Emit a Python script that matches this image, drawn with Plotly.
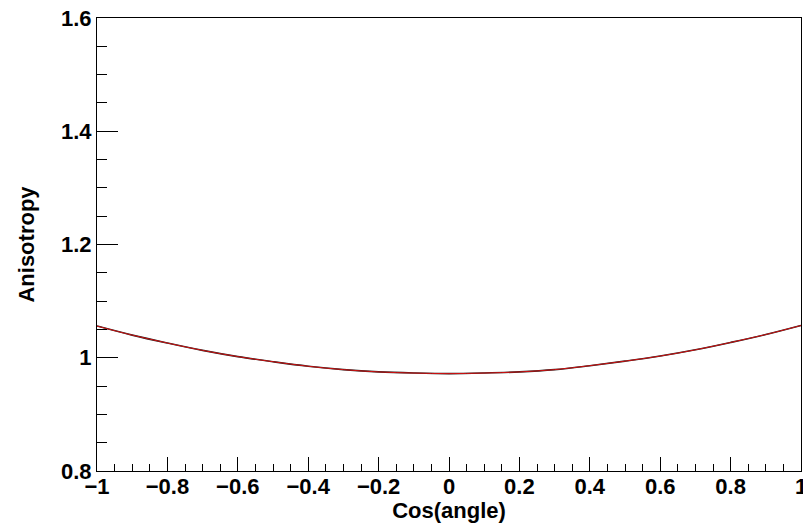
import plotly.graph_objects as go

# Data
cos_angle = [-1.0, -0.9, -0.8, -0.7, -0.6, -0.5, -0.4, -0.3, -0.2, -0.1, 0.0,
             0.1, 0.2, 0.3, 0.4, 0.5, 0.6, 0.7, 0.8, 0.9, 1.0]
anisotropy = [1.056, 1.040, 1.026, 1.013, 1.002, 0.993, 0.985, 0.979, 0.975, 0.973, 0.972,
              0.973, 0.975, 0.979, 0.986, 0.994, 1.003, 1.014, 1.027, 1.041, 1.057]

x_ticks = [-1, -0.8, -0.6, -0.4, -0.2, 0, 0.2, 0.4, 0.6, 0.8, 1]
x_tick_labels = ["\u22121", "\u22120.8", "\u22120.6", "\u22120.4", "\u22120.2", "0",
                 "0.2", "0.4", "0.6", "0.8", "1"]
y_ticks = [0.8, 1.0, 1.2, 1.4, 1.6]
y_tick_labels = ["0.8", "1", "1.2", "1.4", "1.6"]

font_family = "Liberation Sans, Arial, Helvetica, sans-serif"
fsize = 22

fig = go.Figure()
fig.add_trace(go.Scatter(x=cos_angle, y=anisotropy, mode="lines",
                         line=dict(color="#222222", width=1.6, shape="spline"),
                         hoverinfo="skip", showlegend=False))
fig.add_trace(go.Scatter(x=cos_angle, y=anisotropy, mode="lines",
                         line=dict(color="#d01010", width=1, shape="spline"),
                         showlegend=False))

fig.update_layout(
    width=803, height=523,
    margin=dict(l=97, r=2, t=18, b=52),
    paper_bgcolor="white", plot_bgcolor="white",
    font=dict(family=font_family, size=fsize, color="black", weight="bold"),
)
fig.update_xaxes(
    range=[-1, 1], tickvals=x_ticks, ticktext=x_tick_labels,
    ticks="inside", ticklen=14, tickwidth=1, tickcolor="black",
    minor=dict(ticks="inside", ticklen=7, dtick=0.05, tickwidth=1, tickcolor="black"),
    showline=True, linecolor="black", linewidth=1, mirror=True,
    showgrid=False, zeroline=False, automargin=False,
    ticklabeloverflow="allow", ticklabelstandoff=-4,
    tickfont=dict(family=font_family, size=fsize, weight="bold"),
    title=dict(text="Cos(angle)", font=dict(family=font_family, size=fsize, weight="bold"), standoff=0),
)
fig.update_yaxes(
    range=[0.8, 1.6], tickvals=y_ticks, ticktext=y_tick_labels,
    ticks="inside", ticklen=21, tickwidth=1, tickcolor="black",
    minor=dict(ticks="inside", ticklen=10, dtick=0.05, tickwidth=1, tickcolor="black"),
    showline=True, linecolor="black", linewidth=1, mirror=True,
    showgrid=False, zeroline=False, automargin=False,
    ticklabeloverflow="allow",
    tickfont=dict(family=font_family, size=fsize, weight="bold"),
    title=dict(text="Anisotropy", font=dict(family=font_family, size=fsize, weight="bold"), standoff=20),
)

fig.write_html("out.html", config={"displayModeBar": False},
               post_script="document.body.style.margin='0';")
